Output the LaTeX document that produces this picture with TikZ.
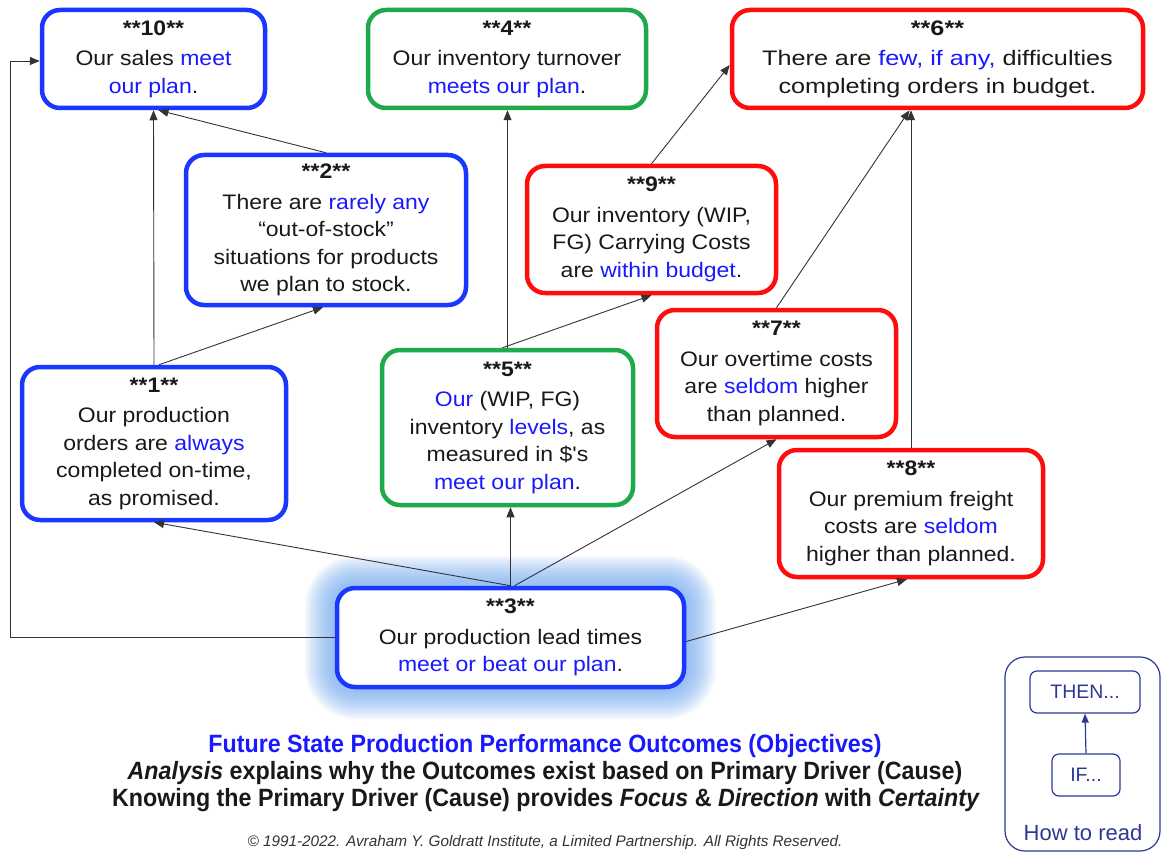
\documentclass[tikz,border=0pt]{standalone}
\usepackage{fontspec}
\setmainfont{Liberation Sans}
\newfontfamily\boxfont{Liberation Sans}[FakeStretch=1.095]
\newfontfamily\wideboxfont{Liberation Sans}[FakeStretch=1.2]
\newfontfamily\footfont{Liberation Sans}[FakeStretch=0.93]
\usetikzlibrary{arrows.meta}
\definecolor{bblue}{RGB}{25,55,255}
\definecolor{bgreen}{RGB}{30,170,75}
\definecolor{bred}{RGB}{255,12,12}
\definecolor{hl}{RGB}{25,25,255}
\definecolor{glow}{RGB}{100,160,235}
\definecolor{lgblue}{RGB}{45,55,150}
\definecolor{txt}{RGB}{25,25,25}
\newcommand{\hb}[1]{\textcolor{hl}{#1}}
\begin{document}
\begin{tikzpicture}[x=1pt,y=-1pt,
  box/.style={draw, line width=4.5pt, rounded corners=18pt, align=center, inner sep=0pt,
    font=\boxfont\fontsize{21}{27.5}\selectfont, text=txt, fill=white},
  bluebox/.style={box, draw=bblue},
  greenbox/.style={box, draw=bgreen},
  redbox/.style={box, draw=bred},
  arr/.style={-{Triangle[length=10pt,width=8pt]}, line width=0.9pt, draw=black!80},
  legbox/.style={draw=lgblue, line width=1.2pt, rounded corners=7pt, text=lgblue,
    font=\fontsize{19.5}{22}\selectfont, inner sep=0pt},
  legarr/.style={-{Triangle[length=9pt,width=7pt]}, line width=1.2pt, draw=lgblue},
  foot/.style={font=\footfont\bfseries\fontsize{25}{27}\selectfont, text=txt},
]
\useasboundingbox (0,0) rectangle (1161,853);

% glow behind box 3
\foreach \i [evaluate=\i as \r using 18+2*\i] in {1,...,16}
  \fill[glow, opacity=0.07, rounded corners=\r pt]
    (337-2*\i, 588-2*\i) rectangle (684+2*\i, 687+2*\i);

\node[bluebox, minimum width=223pt, minimum height=98pt] (n10) at (153.5,59)
  {\textbf{**10**}\\[3pt]Our sales \hb{meet}\\\hb{our plan}.};
\node[greenbox, minimum width=278pt, minimum height=98pt] (n4) at (507,59)
  {\textbf{**4**}\\[3pt]Our inventory turnover\\\hb{meets our plan}.};
\node[redbox, minimum width=411pt, minimum height=98pt, font=\wideboxfont\fontsize{21}{27.5}\selectfont] (n6) at (937.5,59)
  {\textbf{**6**}\\[3pt]There are \hb{few, if any,} difficulties\\completing orders in budget.};
\node[bluebox, minimum width=280pt, minimum height=150pt] (n2) at (326,230)
  {\textbf{**2**}\\[3pt]There are \hb{rarely any}\\“out-of-stock”\\situations for products\\we plan to stock.};
\node[redbox, minimum width=249pt, minimum height=127pt] (n9) at (651.5,229.5)
  {\textbf{**9**}\\[3pt]Our inventory (WIP,\\FG) Carrying Costs\\are \hb{within budget}.};
\node[redbox, minimum width=239pt, minimum height=127pt] (n7) at (776.5,373.5)
  {\textbf{**7**}\\[3pt]Our overtime costs\\are \hb{seldom} higher\\than planned.};
\node[bluebox, minimum width=264pt, minimum height=153pt] (n1) at (154,443.5)
  {\textbf{**1**}\\[3pt]Our production\\orders are \hb{always}\\completed on-time,\\as promised.};
\node[greenbox, minimum width=251pt, minimum height=155pt] (n5) at (507.5,427.5)
  {\textbf{**5**}\\[3pt]\hb{Our} (WIP, FG)\\inventory \hb{levels}, as\\measured in \$'s\\\hb{meet our plan}.};
\node[redbox, minimum width=264pt, minimum height=127pt] (n8) at (911,513.5)
  {\textbf{**8**}\\[3pt]Our premium freight\\costs are \hb{seldom}\\higher than planned.};
\node[bluebox, minimum width=347pt, minimum height=99pt] (n3) at (510.5,637.5)
  {\textbf{**3**}\\[3pt]Our production lead times\\\hb{meet or beat our plan}.};

% connectors
\coordinate (lft) at (10,0);
\draw[arr] (n3.west) -- (n3.west -| lft) |- ([yshift=-2pt]n10.west);
\draw[arr] (n1.north) -- (n10.south);
\draw[arr] (n2.north) -- ([xshift=5pt]n10.south);
\draw[arr] ([xshift=5pt]n1.north) -- ([xshift=-3pt]n2.south);
\draw[arr] (n5.north) -- (n5.north |- n4.south);
\draw[arr] ([xshift=-5pt]n5.north) -- (n9.south);
\draw[arr] (n9.north) -- ([yshift=-6pt]n6.west);
\draw[arr] (n7.north) -- ([xshift=-28pt]n6.south);
\draw[arr] (n8.north) -- (n8.north |- n6.south);
\draw[arr] (n3.north) -- (n1.south);
\draw[arr] (n3.north) -- (n3.north |- n5.south);
\draw[arr] ([xshift=4pt]n3.north) -- (n7.south);
\draw[arr] ([yshift=-4pt]n3.east) -- ([xshift=-4pt]n8.south);

% footer
\node[foot, text=hl] (t1) at (545,746) {Future State Production Performance Outcomes (Objectives)};
\node[foot] (t2) at (545,773) {\textit{Analysis} explains why the Outcomes exist based on Primary Driver (Cause)};
\node[foot] (t3) at (546,800) {Knowing the Primary Driver (Cause) provides \textit{Focus} \& \textit{Direction} with \textit{Certainty}};
\node[font=\itshape\fontsize{15.3}{18}\selectfont, text=black!80] (t4) at (545,843)
  {© 1991-2022. Avraham Y. Goldratt Institute, a Limited Partnership. All Rights Reserved.};

% legend
\node[legbox, rounded corners=20pt, minimum width=155pt, minimum height=194pt] (lg) at (1082.5,754) {};
\node[legbox, minimum width=110pt, minimum height=42pt] (lthen) at (1085,692) {THEN...};
\node[legbox, minimum width=68pt, minimum height=42pt] (lif) at (1086,775) {IF...};
\draw[legarr] (lif.north) -- (lthen.south);
\node[text=lgblue, font=\fontsize{22}{24}\selectfont] (lhow) at (1083,833) {How to read};
\end{tikzpicture}
\end{document}
